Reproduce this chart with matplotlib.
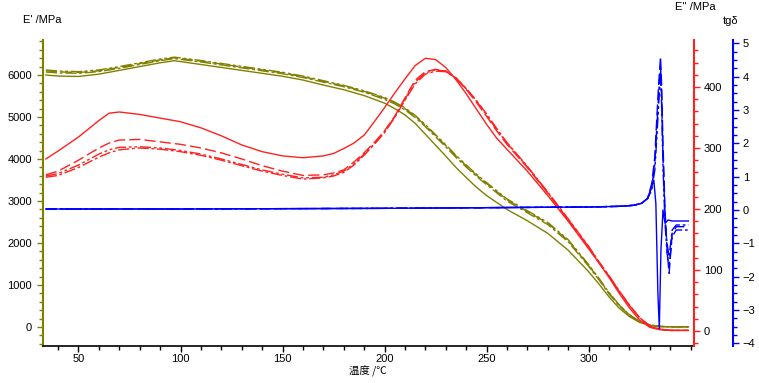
import numpy as np
import matplotlib
matplotlib.use('Agg')
import matplotlib.pyplot as plt
from matplotlib.ticker import MultipleLocator, FixedLocator

plt.rcParams['font.family'] = ['Liberation Sans', 'DejaVu Sans']
plt.rcParams['font.size'] = 8

# E' (storage modulus), four runs on one temperature grid
t_e1 = [34, 40, 50, 60, 70, 80, 90, 97, 110, 120, 130, 140, 150, 160, 170, 180, 190, 200,
        205, 210, 215, 220, 225, 230, 235, 240, 245, 250, 260, 270, 280, 290, 300, 305,
        310, 315, 320, 325, 330, 335, 340, 349]
e1_solid = [6000, 5975, 5965, 6020, 6110, 6200, 6290, 6340, 6250, 6180, 6110, 6040, 5970, 5880,
            5760, 5650, 5510, 5330, 5200, 5050, 4850, 4590, 4330, 4070, 3800, 3560, 3330, 3130,
            2800, 2530, 2230, 1830, 1320, 1030, 720, 450, 250, 110, 40, 10, 5, 5]
e1_dash = [6100, 6075, 6060, 6100, 6180, 6270, 6360, 6410, 6330, 6260, 6190, 6120, 6050, 5960,
           5850, 5740, 5610, 5450, 5340, 5200, 5020, 4800, 4560, 4320, 4070, 3840, 3620, 3420,
           3030, 2750, 2470, 2060, 1470, 1150, 810, 520, 290, 130, 50, 15, 5, 5]
e1_dashdot = [6070, 6050, 6040, 6080, 6160, 6250, 6340, 6390, 6310, 6240, 6170, 6100, 6030, 5940,
              5830, 5720, 5590, 5420, 5310, 5170, 4990, 4770, 4530, 4290, 4040, 3810, 3590, 3390,
              3000, 2720, 2440, 2030, 1450, 1130, 790, 510, 280, 125, 45, 12, 5, 5]
e1_dashdotdot = [6120, 6095, 6080, 6120, 6200, 6290, 6380, 6425, 6345, 6275, 6205, 6135, 6065, 5975,
                 5865, 5755, 5625, 5465, 5355, 5220, 5040, 4820, 4580, 4340, 4090, 3860, 3640, 3440,
                 3050, 2770, 2490, 2080, 1490, 1165, 825, 530, 295, 135, 52, 15, 5, 5]

# E'' (loss modulus)
t_e2 = [34, 40, 50, 60, 65, 70, 80, 90, 100, 110, 120, 130, 140, 150, 160, 170, 175, 180, 185,
        190, 195, 200, 205, 210, 215, 220, 225, 230, 235, 240, 245, 250, 255, 260, 270, 280,
        290, 300, 305, 310, 315, 320, 325, 330, 335, 340, 349]
e2_solid = [282, 295, 318, 345, 357, 359, 355, 349, 343, 333, 320, 305, 294, 287, 284, 287, 291,
            299, 308, 321, 343, 366, 390, 413, 435, 447, 445, 432, 412, 389, 364, 339, 316, 298,
            262, 222, 180, 135, 112, 88, 62, 38, 18, 6, 2, 1, 1]
e2_dash = [256, 262, 280, 300, 308, 313, 314, 310, 306, 300, 292, 282, 271, 262, 255, 256, 259,
           264, 277, 292, 309, 328, 352, 382, 411, 425, 429, 426, 414, 396, 375, 352, 328, 306,
           268, 226, 182, 138, 113, 90, 65, 42, 22, 8, 3, 1, 1]
e2_dashdot = [252, 255, 268, 285, 292, 297, 300, 298, 294, 288, 280, 271, 262, 255, 249, 251, 254,
              260, 272, 288, 306, 325, 350, 378, 405, 421, 426, 425, 415, 398, 378, 356, 332, 309,
              270, 228, 184, 139, 114, 91, 66, 43, 22, 8, 3, 1, 1]
e2_dashdotdot = [254, 258, 272, 290, 297, 301, 302, 300, 296, 290, 282, 273, 264, 257, 251, 252, 256,
                 262, 274, 290, 307, 327, 351, 380, 408, 423, 428, 426, 415, 397, 377, 354, 330, 308,
                 269, 227, 183, 138, 113, 90, 65, 42, 22, 8, 3, 1, 1]

# tg delta
t_tan_solid = [34, 100, 200, 250, 300, 315, 322, 326, 329, 331, 332, 333, 334, 334.7, 335.5,
               336.5, 337.5, 339, 341, 349]
tan_solid = [0.03, 0.03, 0.05, 0.07, 0.09, 0.11, 0.14, 0.2, 0.35, 0.7, 0.9, 0.2, -2.5, -3.55,
             -1.2, 0.0, -0.4, -0.3, -0.33, -0.33]
t_tan_dash = [34, 100, 200, 250, 300, 315, 322, 326, 329, 331, 332.5, 333.5, 334.5, 335.3, 335.8,
              336.5, 337.5, 338.5, 339.5, 341, 343, 349]
tan_dash = [0.03, 0.03, 0.05, 0.07, 0.09, 0.11, 0.14, 0.2, 0.35, 0.8, 1.6, 2.8, 3.9, 4.6, 3.8,
            2.0, 0.0, -1.2, -1.9, -0.7, -0.5, -0.5]
tan_dashdot = [0.03, 0.03, 0.05, 0.07, 0.09, 0.11, 0.14, 0.2, 0.35, 0.7, 1.4, 2.5, 3.6, 4.3, 3.5,
               1.6, -0.2, -1.0, -1.4, -0.6, -0.45, -0.45]
tan_dashdotdot = [0.03, 0.03, 0.05, 0.07, 0.09, 0.11, 0.14, 0.2, 0.35, 0.6, 1.2, 2.2, 3.3, 4.0, 3.2,
                  1.3, -0.4, -1.3, -1.7, -0.8, -0.6, -0.6]

x_labels = [50, 100, 150, 200, 250, 300]

OLIVE = '#808000'
RED = '#ff2020'
BLUE = '#0000ff'
styles = ['-', (0, (8, 3)), (0, (8, 2, 2, 2)), (0, (8, 2, 2, 2, 2, 2))]

fig = plt.figure(figsize=(7.59, 3.83), dpi=100)
ax = fig.add_axes([43 / 759, 1 - 346 / 383, 651 / 759, 306 / 383])
ax2 = ax.twinx()
ax3 = ax.twinx()

for ys, ls in zip([e1_solid, e1_dash, e1_dashdot, e1_dashdotdot], styles):
    ax.plot(t_e1, ys, color=OLIVE, lw=1.0, linestyle=ls)
for ys, ls in zip([e2_solid, e2_dash, e2_dashdot, e2_dashdotdot], styles):
    ax2.plot(t_e2, ys, color=RED, lw=1.0, linestyle=ls)
ax3.plot(t_tan_solid, tan_solid, color=BLUE, lw=1.0, linestyle=styles[0])
for ys, ls in zip([tan_dash, tan_dashdot, tan_dashdotdot], styles[1:]):
    ax3.plot(t_tan_dash, ys, color=BLUE, lw=1.0, linestyle=ls)

ax.set_xlim(32.6, 351.7)
ax.set_ylim(-452, 6833)
ax2.set_ylim(-24.6, 477)
ax3.set_ylim(-4.08, 5.1)

ax.xaxis.set_major_locator(FixedLocator(x_labels))
ax.xaxis.set_minor_locator(MultipleLocator(10))
ax.yaxis.set_major_locator(MultipleLocator(1000))
ax.yaxis.set_minor_locator(MultipleLocator(200))
ax2.yaxis.set_major_locator(MultipleLocator(100))
ax2.yaxis.set_minor_locator(MultipleLocator(20))
ax3.yaxis.set_major_locator(MultipleLocator(1))
ax3.yaxis.set_minor_locator(MultipleLocator(0.25))

ax.spines['top'].set_visible(False)
ax.spines['right'].set_visible(False)
ax.spines['left'].set_color(OLIVE)
ax.spines['left'].set_linewidth(1.5)
ax.spines['bottom'].set_linewidth(1.2)
for a in (ax2, ax3):
    a.spines['top'].set_visible(False)
    a.spines['left'].set_visible(False)
    a.spines['bottom'].set_visible(False)
ax2.spines['right'].set_color(RED)
ax2.spines['right'].set_linewidth(1.5)
ax3.spines['right'].set_color(BLUE)
ax3.spines['right'].set_linewidth(1.5)
ax3.spines['right'].set_position(('axes', 1 + 39 / 651))

ax.tick_params(axis='x', which='major', length=4, width=1, pad=1.5)
ax.tick_params(axis='x', which='minor', length=3, width=1)
ax.tick_params(axis='y', which='major', length=4, width=1, color=OLIVE, pad=4)
ax.tick_params(axis='y', which='minor', length=3, width=1, color=OLIVE)
ax2.tick_params(axis='y', which='major', length=4, width=1, color=RED, pad=3)
ax2.tick_params(axis='y', which='minor', length=3, width=1, color=RED)
ax3.tick_params(axis='y', which='major', length=4, width=1, color=BLUE, pad=3)
ax3.tick_params(axis='y', which='minor', length=3, width=1, color=BLUE)

fig.text(23 / 759, 1 - 20 / 383, "E' /MPa", ha='left', va='center', fontsize=8)
fig.text(675 / 759, 1 - 7 / 383, "E'' /MPa", ha='left', va='center', fontsize=8)
fig.text(723 / 759, 1 - 21 / 383, "tgδ", ha='left', va='center', fontsize=8)
fig.text(368 / 759, 1 - 371 / 383, "温度 /℃", ha='center', va='center', fontsize=7.5,
         family=['Noto Sans CJK SC', 'DejaVu Sans'])

fig.savefig('out.png', dpi=100)
